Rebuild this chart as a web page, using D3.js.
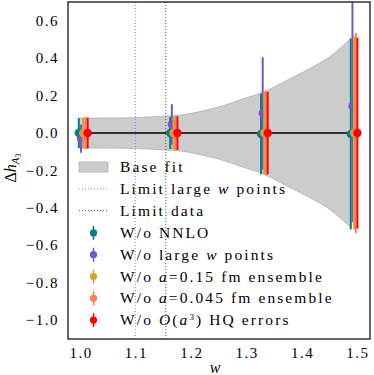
<!DOCTYPE html>
<html>
<head>
<meta charset="utf-8">
<script src="https://cdn.jsdelivr.net/npm/d3@7"></script>
<style>
  body { margin: 0; background: #fff; }
</style>
</head>
<body>
<div id="chart"></div>
<script>
// base fit band (w, half width)
var bandW    = [0.996, 1.05, 1.10, 1.15, 1.18, 1.21, 1.25, 1.29, 1.33, 1.37, 1.41, 1.45, 1.487]
var bandHalf = [0.080, 0.080, 0.083, 0.090, 0.096, 0.112, 0.140, 0.180, 0.220, 0.280, 0.340, 0.410, 0.505]

// series, each has its own w offsets
var nnloW   = [0.996, 1.161, 1.325, 1.487]
var nnloY   = [0.0, 0.0, -0.005, -0.005]
var nnloErr = [0.080, 0.085, 0.215, 0.510]

var largeW   = [1.000, 1.164, 1.328, 1.490]
var largeY   = [-0.030, 0.046, 0.105, 0.144]
var largeErr = [0.075, 0.108, 0.300, 0.620]

var a15W   = [1.004, 1.167, 1.331, 1.493]
var a15Y   = [0.0, 0.0, 0.0, 0.0]
var a15Err = [0.082, 0.088, 0.220, 0.515]

var a045W   = [1.008, 1.170, 1.334, 1.496]
var a045Y   = [0.0, 0.0, 0.0, 0.0]
var a045Err = [0.085, 0.090, 0.225, 0.535]

var hqW   = [1.012, 1.174, 1.337, 1.499]
var hqY   = [0.0, 0.0, 0.0, 0.0]
var hqErr = [0.082, 0.090, 0.220, 0.510]

var xTicks = [1.0, 1.1, 1.2, 1.3, 1.4, 1.5]
var yTicks = [-1.0, -0.8, -0.6, -0.4, -0.2, 0.0, 0.2, 0.4, 0.6]
var limitLarge = 1.098
var limitData = 1.153

var series = [
  {name: "W/o NNLO", w: nnloW, y: nnloY, e: nnloErr, color: "#008080"},
  {name: "W/o large w points", w: largeW, y: largeY, e: largeErr, color: "#6a5acd"},
  {name: "W/o a=0.15 fm ensemble", w: a15W, y: a15Y, e: a15Err, color: "#daa520"},
  {name: "W/o a=0.045 fm ensemble", w: a045W, y: a045Y, e: a045Err, color: "#ff7f50"},
  {name: "W/o O(a3) HQ errors", w: hqW, y: hqY, e: hqErr, color: "#ff0000"}
]

var W = 374, H = 375
var margin = {top: 2, right: 4, bottom: 36, left: 68}
var width = W - margin.left - margin.right,
    height = H - margin.top - margin.bottom

var svg = d3.select("#chart").append("svg")
    .attr("width", W).attr("height", H)
    .style("font-family", "Liberation Serif")

var g = svg.append("g")
    .attr("transform", "translate(" + margin.left + "," + margin.top + ")")

var x = d3.scaleLinear().domain([0.9765, 1.5217]).range([0, width])
var y = d3.scaleLinear().domain([-1.1, 0.7]).range([height, 0])

g.append("clipPath").attr("id", "clip")
  .append("rect").attr("width", width).attr("height", height)

var plot = g.append("g").attr("clip-path", "url(#clip)")

// band
var band = bandW.map((w, i) => ({w: w, h: bandHalf[i]}))
plot.append("path")
  .datum(band)
  .attr("d", d3.area().x(d => x(d.w)).y0(d => y(-d.h)).y1(d => y(d.h)).curve(d3.curveMonotoneX))
  .attr("fill", "#cccccc")
  .attr("stroke", "#b0b0b0")
  .attr("stroke-width", 0.8)

// limit lines
plot.append("line")
  .attr("x1", x(limitLarge)).attr("x2", x(limitLarge))
  .attr("y1", 0).attr("y2", height)
  .attr("stroke", "#8080f0").attr("stroke-width", 1)
  .attr("stroke-dasharray", "1,2")
plot.append("line")
  .attr("x1", x(limitData)).attr("x2", x(limitData))
  .attr("y1", 0).attr("y2", height)
  .attr("stroke", "#555").attr("stroke-width", 1)
  .attr("stroke-dasharray", "1,2")

// zero line
plot.append("line")
  .attr("x1", x(0.996)).attr("x2", x(1.499))
  .attr("y1", y(0)).attr("y2", y(0))
  .attr("stroke", "#000").attr("stroke-width", 1.5)

// error bars
series.forEach(function(s) {
  var pts = s.w.map((w, i) => ({w: w, y: s.y[i], e: s.e[i]}))
  var sg = plot.append("g")
  sg.selectAll("line").data(pts).enter().append("line")
    .attr("x1", d => x(d.w)).attr("x2", d => x(d.w))
    .attr("y1", d => y(d.y - d.e)).attr("y2", d => y(d.y + d.e))
    .attr("stroke", s.color).attr("stroke-width", 2)
  sg.selectAll("circle").data(pts).enter().append("circle")
    .attr("cx", d => x(d.w)).attr("cy", d => y(d.y))
    .attr("r", 4.2)
    .attr("fill", s.color)
})

// frame
g.append("rect")
  .attr("width", width).attr("height", height)
  .attr("fill", "none").attr("stroke", "#333").attr("stroke-width", 1.5)

// ticks labels
var tfs = "15px", ls = "1.5px"
g.selectAll(".xt").data(xTicks).enter().append("text")
  .attr("x", d => x(d)).attr("y", height + 19)
  .attr("text-anchor", "middle")
  .style("font-size", tfs).style("letter-spacing", ls)
  .text(d => d3.format(".1f")(d))

g.selectAll(".yt").data(yTicks).enter().append("text")
  .attr("x", -9).attr("y", d => y(d) + 5)
  .attr("text-anchor", "end")
  .style("font-size", tfs).style("letter-spacing", ls)
  .text(d => d3.format(".1f")(d).replace("-", "\u2212"))

// axis labels
g.append("text")
  .attr("x", width / 2 - 4).attr("y", height + 34)
  .attr("text-anchor", "middle")
  .style("font-size", "16px").style("font-style", "italic")
  .text("w")

var yl = svg.append("text")
  .attr("transform", "translate(16,168) rotate(-90)")
  .attr("text-anchor", "middle")
  .style("font-size", "16px")
yl.append("tspan").text("\u0394")
yl.append("tspan").style("font-style", "italic").text("h")
yl.append("tspan").attr("dy", 3).style("font-size", "11px").style("font-style", "italic").text("A")
yl.append("tspan").attr("dy", 2).style("font-size", "8px").text("3")

// legend
var leg = svg.append("g").attr("transform", "translate(79,167)")
var rowH = 21.8
var fs = "15.5px", lls = "2.1px"

leg.append("rect").attr("x", 0).attr("y", -5).attr("width", 29).attr("height", 10)
  .attr("fill", "#cccccc").attr("stroke", "#b0b0b0").attr("stroke-width", 0.8)
leg.append("text").attr("x", 41).attr("y", 5).style("font-size", fs).style("letter-spacing", lls).text("Base fit")

leg.append("line").attr("x1", 0).attr("x2", 29).attr("y1", rowH).attr("y2", rowH)
  .attr("stroke", "#8080f0").attr("stroke-dasharray", "1,2")
var t1 = leg.append("text").attr("x", 41).attr("y", rowH + 5).style("font-size", fs).style("letter-spacing", lls)
t1.append("tspan").text("Limit large ")
t1.append("tspan").style("font-style", "italic").text("w")
t1.append("tspan").text(" points")

leg.append("line").attr("x1", 0).attr("x2", 29).attr("y1", 2 * rowH).attr("y2", 2 * rowH)
  .attr("stroke", "#555").attr("stroke-dasharray", "1,2")
leg.append("text").attr("x", 41).attr("y", 2 * rowH + 5).style("font-size", fs).style("letter-spacing", lls).text("Limit data")

var labels = [
  [["W/o NNLO", ""]],
  [["W/o large ", ""], ["w", "i"], [" points", ""]],
  [["W/o ", ""], ["a", "i"], ["=0.15 fm ensemble", ""]],
  [["W/o ", ""], ["a", "i"], ["=0.045 fm ensemble", ""]],
  [["W/o ", ""], ["O", "i"], ["(", ""], ["a", "i"], ["3", "sup"], [") HQ errors", ""]]
]

series.forEach(function(s, i) {
  var cy = (3 + i) * rowH + 0.5
  leg.append("line").attr("x1", 14.5).attr("x2", 14.5).attr("y1", cy - 7).attr("y2", cy + 7)
    .attr("stroke", s.color).attr("stroke-width", 1.5)
  leg.append("circle").attr("cx", 14.5).attr("cy", cy).attr("r", 3.6).attr("fill", s.color)
  var t = leg.append("text").attr("x", 41).attr("y", cy + 5).style("font-size", fs).style("letter-spacing", lls)
  labels[i].forEach(function(p) {
    var sp = t.append("tspan").text(p[0])
    if (p[1] == "i") sp.style("font-style", "italic")
    if (p[1] == "sup") sp.attr("dy", -5).style("font-size", "9px")
    if (p[0].charAt(0) == ")") sp.attr("dy", 5)
  })
})
</script>
</body>
</html>
